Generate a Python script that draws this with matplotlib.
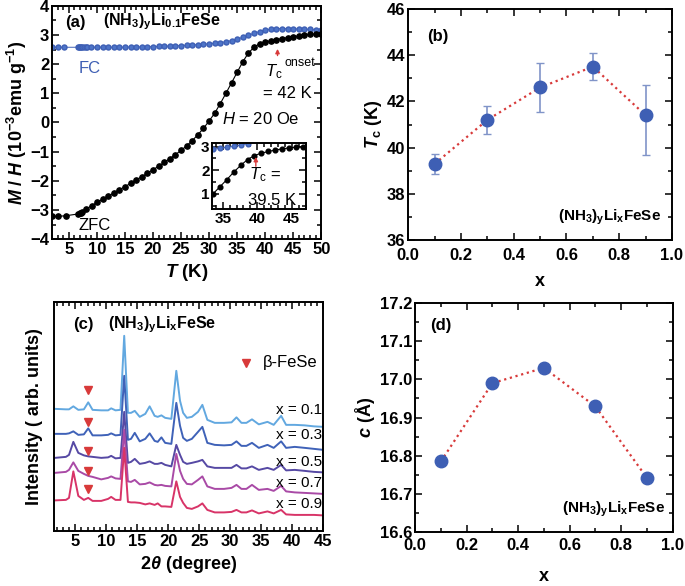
import matplotlib
matplotlib.use('Agg')
import matplotlib.pyplot as plt
from matplotlib.ticker import MultipleLocator

plt.rcParams['font.family'] = 'Liberation Sans'
plt.rcParams['font.weight'] = 'bold'
plt.rcParams['axes.labelweight'] = 'bold'
plt.rcParams['mathtext.fontset'] = 'custom'
plt.rcParams['mathtext.rm'] = 'Liberation Sans:normal'
plt.rcParams['mathtext.it'] = 'Liberation Sans:italic:normal'
plt.rcParams['mathtext.bf'] = 'Liberation Sans:bold'
plt.rcParams['mathtext.bfit'] = 'Liberation Sans:italic:bold'
plt.rcParams['axes.linewidth'] = 1.4

# ---- (a) M/H vs T ----
T_zfc = [2.0, 3.0, 4.4, 6.6, 6.9, 7.1, 7.4, 8.1, 9.1, 10.0, 11.0, 12.0, 13.0, 14.0, 15.0,
         16.0, 17.0, 18.0, 19.0, 20.0, 21.0, 22.0, 23.0, 24.0, 25.0, 26.0, 27.0, 28.0,
         29.0, 30.0, 31.0, 32.0, 33.0, 34.0, 35.0, 36.0, 37.0, 38.0, 39.0, 40.0, 41.0,
         42.0, 43.0, 44.0, 45.0, 46.0, 47.0, 48.0, 49.0, 50.0]
M_zfc = [-3.22, -3.22, -3.20, -3.14, -3.12, -3.11, -3.08, -2.97, -2.85, -2.74, -2.64,
         -2.53, -2.42, -2.31, -2.20, -2.09, -1.97, -1.86, -1.74, -1.62, -1.50, -1.37,
         -1.24, -1.10, -0.96, -0.80, -0.62, -0.42, -0.20, 0.05, 0.32, 0.65, 1.00, 1.36,
         1.72, 2.08, 2.38, 2.58, 2.70, 2.76, 2.80, 2.84, 2.88, 2.91, 2.94, 2.97, 3.00,
         3.02, 3.04, 3.05]
T_fc = [2.0, 3.0, 4.1, 6.6, 6.8, 7.0, 7.2, 7.4, 7.7, 8.0, 8.3, 9.0, 10.0, 11.0, 12.0,
        13.0, 14.0, 15.0, 16.0, 17.0, 18.0, 19.0, 20.0, 21.0, 22.0, 23.0, 24.0, 25.0,
        26.0, 27.0, 28.0, 29.0, 30.0, 31.0, 32.0, 33.0, 34.0, 35.0, 36.0, 37.0, 38.0,
        39.0, 40.0, 41.0, 42.0, 43.0, 44.0, 45.0, 46.0, 47.0, 48.0, 49.0, 50.0]
M_fc = [2.58, 2.58, 2.58, 2.58, 2.58, 2.58, 2.58, 2.58, 2.58, 2.58, 2.58, 2.58, 2.58,
        2.58, 2.58, 2.58, 2.58, 2.58, 2.59, 2.59, 2.59, 2.60, 2.60, 2.61, 2.62, 2.62,
        2.63, 2.64, 2.65, 2.66, 2.67, 2.68, 2.70, 2.72, 2.74, 2.77, 2.81, 2.86, 2.92,
        2.99, 3.06, 3.12, 3.17, 3.20, 3.22, 3.22, 3.22, 3.21, 3.21, 3.20, 3.19, 3.18, 3.17]

# inset
T_in_zfc = [33.6, 34.6, 35.6, 36.6, 37.6, 38.6, 39.6, 40.6, 41.6, 42.6, 43.6, 44.6, 45.6, 46.6]
M_in_zfc = [1.0, 1.3, 1.6, 1.92, 2.2, 2.45, 2.62, 2.72, 2.79, 2.85, 2.9, 2.94, 2.97, 3.0]
T_in_fc = [33.6, 34.6, 35.6, 36.6, 37.6, 38.6]
M_in_fc = [2.88, 2.93, 2.97, 3.01, 3.06, 3.12]

# ---- (b) Tc vs x, (d) c vs x ----
x_vals = [0.1, 0.3, 0.5, 0.7, 0.9]
Tc_vals = [39.3, 41.2, 42.6, 43.5, 41.4]
Tc_err_lo = [0.43, 0.6, 1.06, 0.58, 1.73]
Tc_err_hi = [0.43, 0.6, 1.06, 0.58, 1.31]
c_vals = [16.785, 16.99, 17.03, 16.929, 16.742]

# ---- (c) XRD ----
two_theta = [1.7, 3.5, 4.0, 4.7, 5.5, 6.4, 7.1, 7.8, 9.2, 10.3, 10.8, 11.5, 12.3, 12.9,
             13.5, 14.0, 14.6, 15.4, 16.3, 17.0, 17.8, 18.3, 18.9, 19.5, 20.5, 21.3,
             21.9, 22.4, 23.0, 23.8, 24.8, 25.5, 26.3, 27.5, 29.0, 30.2, 31.0, 31.8,
             32.6, 33.5, 34.6, 36.0, 37.0, 38.2, 39.0, 40.4, 42.0, 43.5, 45.0]
I_x01 = [122, 121.5, 121.5, 124.5, 121, 121.5, 128.5, 121, 120.5, 120.5, 122.5, 120.5,
         121, 195, 118, 118, 120, 114, 117, 124.5, 115, 114, 115.5, 113, 112, 160, 130,
         118, 113, 114, 119, 126, 111, 108, 108, 108.5, 113.5, 108, 108, 111.5, 106.5,
         109, 106, 115, 106, 106, 105.5, 104.5, 104]
I_x03 = [97, 97, 97.5, 99.5, 96, 96.5, 102.5, 95.5, 95.5, 96, 97.5, 95.5, 96, 155, 91,
         92, 98, 89.5, 92, 97.5, 90, 89, 93.5, 88, 87, 128, 105, 93, 90, 92, 99, 104, 88,
         86, 85.5, 86, 89.5, 85, 85, 88, 83, 86, 83, 89.5, 83, 84, 83, 82, 81]
I_x05 = [73, 74, 76, 89, 78, 75.5, 74.5, 74, 73, 73.5, 75, 72.5, 73, 119, 68, 69, 72, 67,
         68, 69.5, 67, 67, 68, 66, 64.5, 86, 76, 69, 67, 68, 69.5, 71, 64.5, 63, 63, 63,
         66, 62.5, 62.5, 64.5, 61, 63, 61, 66, 60.5, 61, 60, 59, 58.5]
I_x07 = [58, 59, 61, 68.5, 60, 57, 55, 54, 51.5, 53, 54.5, 52.5, 52, 101, 49.5, 49, 51,
         46.5, 47, 48.5, 46, 45.5, 46, 45, 44.5, 77, 60, 52, 47, 46.5, 51, 54.5, 44.5, 42,
         42, 43, 46, 42, 42, 46, 41, 42, 40, 45, 39.5, 38.5, 38, 37.5, 37]
I_x09 = [30.5, 31, 33, 59.5, 35, 31, 33, 30, 30, 32, 34, 31, 31, 83, 29, 28.5, 28.5, 28,
         26.5, 27.5, 26, 27.5, 24.5, 24.5, 24, 49.5, 34, 28, 23, 22, 24.5, 27.5, 21, 18.5,
         18.5, 19, 21, 18.5, 18.5, 20.5, 17.5, 19.5, 17.5, 21, 16.5, 16, 16, 16, 15.5]
xrd_labels = ['x = 0.1', 'x = 0.3', 'x = 0.5', 'x = 0.7', 'x = 0.9']
label_y = [121, 96, 69, 48, 27]
feSe_theta = [7.1, 7.1, 7.1, 7.1, 7.1]
feSe_y = [141, 109, 80, 60, 42]

blue = '#3e5fb4'
red = '#d83a3a'
TICK = 12
LAB = 13


def style(ax, xmaj, xmin, ymaj=None, ymin=None, size=TICK, xpad=2):
    ax.xaxis.set_major_locator(MultipleLocator(xmaj))
    ax.xaxis.set_minor_locator(MultipleLocator(xmin))
    if ymaj is not None:
        ax.yaxis.set_major_locator(MultipleLocator(ymaj))
        ax.yaxis.set_minor_locator(MultipleLocator(ymin))
    ax.tick_params(which='both', direction='in', top=True, right=True, labelsize=size, width=1.1, pad=2)
    ax.tick_params(axis='x', pad=xpad)
    ax.tick_params(which='major', length=5)
    ax.tick_params(which='minor', length=3)
    for lab in ax.get_xticklabels() + ax.get_yticklabels():
        lab.set_fontweight('bold')


fig = plt.figure(figsize=(6.85, 5.86), dpi=100)

# (a)
ax = fig.add_axes([0.076, 0.592, 0.393, 0.398])
ax.plot(T_fc, M_fc, '-', color=blue, lw=0.7, marker='o', ms=3.6, mec=blue, mfc='#4d74c8')
ax.plot(T_zfc, M_zfc, '-', color='black', lw=0.8, marker='o', ms=3.8)
ax.set_xlim(2, 50)
ax.set_ylim(-4, 4)
style(ax, 5, 1, 1, 0.5)
ax.set_xlabel(r'$\mathbfit{T}$ (K)', fontsize=LAB + 0.5)
ax.set_ylabel(r'$\mathbfit{M}$ / $\mathbfit{H}$ (10$^{\mathbf{-3}}$emu g$^{\mathbf{-1}}$)', fontsize=LAB, labelpad=1)
ax.text(0.05, 0.93, '(a)', transform=ax.transAxes, fontsize=12, va='center')
ax.text(0.19, 0.93, r'(NH$_{\mathbf{3}}$)$_{\mathbf{y}}$Li$_{\mathbf{0.1}}$FeSe', transform=ax.transAxes,
        fontsize=11.5, va='center')
ax.text(6.7, 1.85, 'FC', color=blue, fontsize=12, weight='normal', va='center')
ax.text(6.7, -3.55, 'ZFC', color='black', fontsize=12, weight='normal', va='center')
ax.text(40.0, 1.75, r'$T_\mathrm{c}$', fontsize=12, weight='normal', va='center')
ax.text(43.4, 2.05, 'onset', fontsize=9, weight='normal', va='center')
ax.text(39.6, 1.0, '= 42 K', fontsize=12, weight='normal', va='center')
ax.text(32.3, 0.12, r'$H$ = 20 Oe', fontsize=12, weight='normal', va='center')
ax.annotate('', xy=(42.2, 2.62), xytext=(42.2, 2.2),
            arrowprops=dict(arrowstyle='-|>', color=red, lw=1.0, mutation_scale=6))

ins = fig.add_axes([0.310, 0.643, 0.136, 0.113])
ins.plot(T_in_fc, M_in_fc, '-', color=blue, lw=0.7, marker='o', ms=3.4, mec=blue, mfc='#4d74c8')
ins.plot(T_in_zfc, M_in_zfc, '-', color='black', lw=0.8, marker='o', ms=3.4)
ins.set_xlim(33.5, 47)
ins.set_ylim(0.35, 3.15)
style(ins, 5, 1, 1, 0.5, size=11)
ins.text(38.8, 1.8, r'$T_\mathrm{c}$ =', fontsize=12, weight='normal', va='center')
ins.text(38.6, 0.72, '39.5 K', fontsize=12, weight='normal', va='center')
ins.annotate('', xy=(39.8, 2.68), xytext=(39.8, 2.05),
             arrowprops=dict(arrowstyle='-|>', color=red, lw=1.0, mutation_scale=6))

# (b)
bx = fig.add_axes([0.596, 0.590, 0.385, 0.395])
bx.plot(x_vals, Tc_vals, ':', color=red, lw=1.6)
bx.errorbar(x_vals, Tc_vals, yerr=[Tc_err_lo, Tc_err_hi], fmt='o', color=blue, ms=9,
            ecolor='#8094c8', elinewidth=1.2, capsize=3)
bx.set_xlim(0, 1.0)
bx.set_ylim(36, 46)
style(bx, 0.2, 0.1, 2, 1, xpad=5.5)
bx.set_xlabel('x', fontsize=LAB, labelpad=7)
bx.set_ylabel(r'$\mathbfit{T}_{\mathbf{c}}$ (K)', fontsize=LAB, labelpad=2)
bx.text(0.07, 0.88, '(b)', transform=bx.transAxes, fontsize=12, va='center')
bx.text(0.96, 0.1, r'(NH$_{\mathbf{3}}$)$_{\mathbf{y}}$Li$_{\mathbf{x}}$FeSe', transform=bx.transAxes,
        fontsize=11, ha='right', va='center')

# (c)
cx = fig.add_axes([0.079, 0.094, 0.393, 0.391])
colors = ['#62a8e0', '#3f62b8', '#5649a4', '#a94aa6', '#d83468']
for I, col, lab, ly in zip([I_x01, I_x03, I_x05, I_x07, I_x09], colors, xrd_labels, label_y):
    cx.plot(two_theta, I, '-', color=col, lw=1.4)
    cx.text(44.8, ly, lab, fontsize=11, weight='normal', ha='right', va='center')
cx.plot(feSe_theta, feSe_y, 'v', color=red, ms=6)
cx.plot([32.6], [168], 'v', color=red, ms=6)
cx.text(35.3, 168, 'β-FeSe', fontsize=12, weight='normal', va='center')
cx.set_xlim(1.6, 45)
cx.set_ylim(0, 229)
style(cx, 5, 1)
cx.tick_params(axis='y', left=False, right=False, labelleft=False)
cx.set_xlabel(r'2$\mathbfit{\theta}$ (degree)', fontsize=LAB)
cx.set_ylabel('Intensity ( arb. units)', fontsize=LAB, labelpad=8)
cx.text(0.07, 0.9, '(c)', transform=cx.transAxes, fontsize=12, va='center')
cx.text(0.2, 0.9, r'(NH$_{\mathbf{3}}$)$_{\mathbf{y}}$Li$_{\mathbf{x}}$FeSe', transform=cx.transAxes,
        fontsize=11.5, va='center')

# (d)
dx = fig.add_axes([0.606, 0.092, 0.376, 0.391])
dx.plot(x_vals, c_vals, ':', color=red, lw=1.6)
dx.plot(x_vals, c_vals, 'o', color=blue, ms=9)
dx.set_xlim(0, 1.0)
dx.set_ylim(16.6, 17.2)
style(dx, 0.2, 0.1, 0.1, 0.05, xpad=4)
dx.set_xlabel('x', fontsize=LAB, labelpad=11)
dx.set_ylabel(r'$\mathbfit{c}$ (Å)', fontsize=LAB, labelpad=2)
dx.text(0.06, 0.9, '(d)', transform=dx.transAxes, fontsize=12, va='center')
dx.text(0.97, 0.1, r'(NH$_{\mathbf{3}}$)$_{\mathbf{y}}$Li$_{\mathbf{x}}$FeSe', transform=dx.transAxes,
        fontsize=11, ha='right', va='center')

fig.savefig('out.png', dpi=100)
